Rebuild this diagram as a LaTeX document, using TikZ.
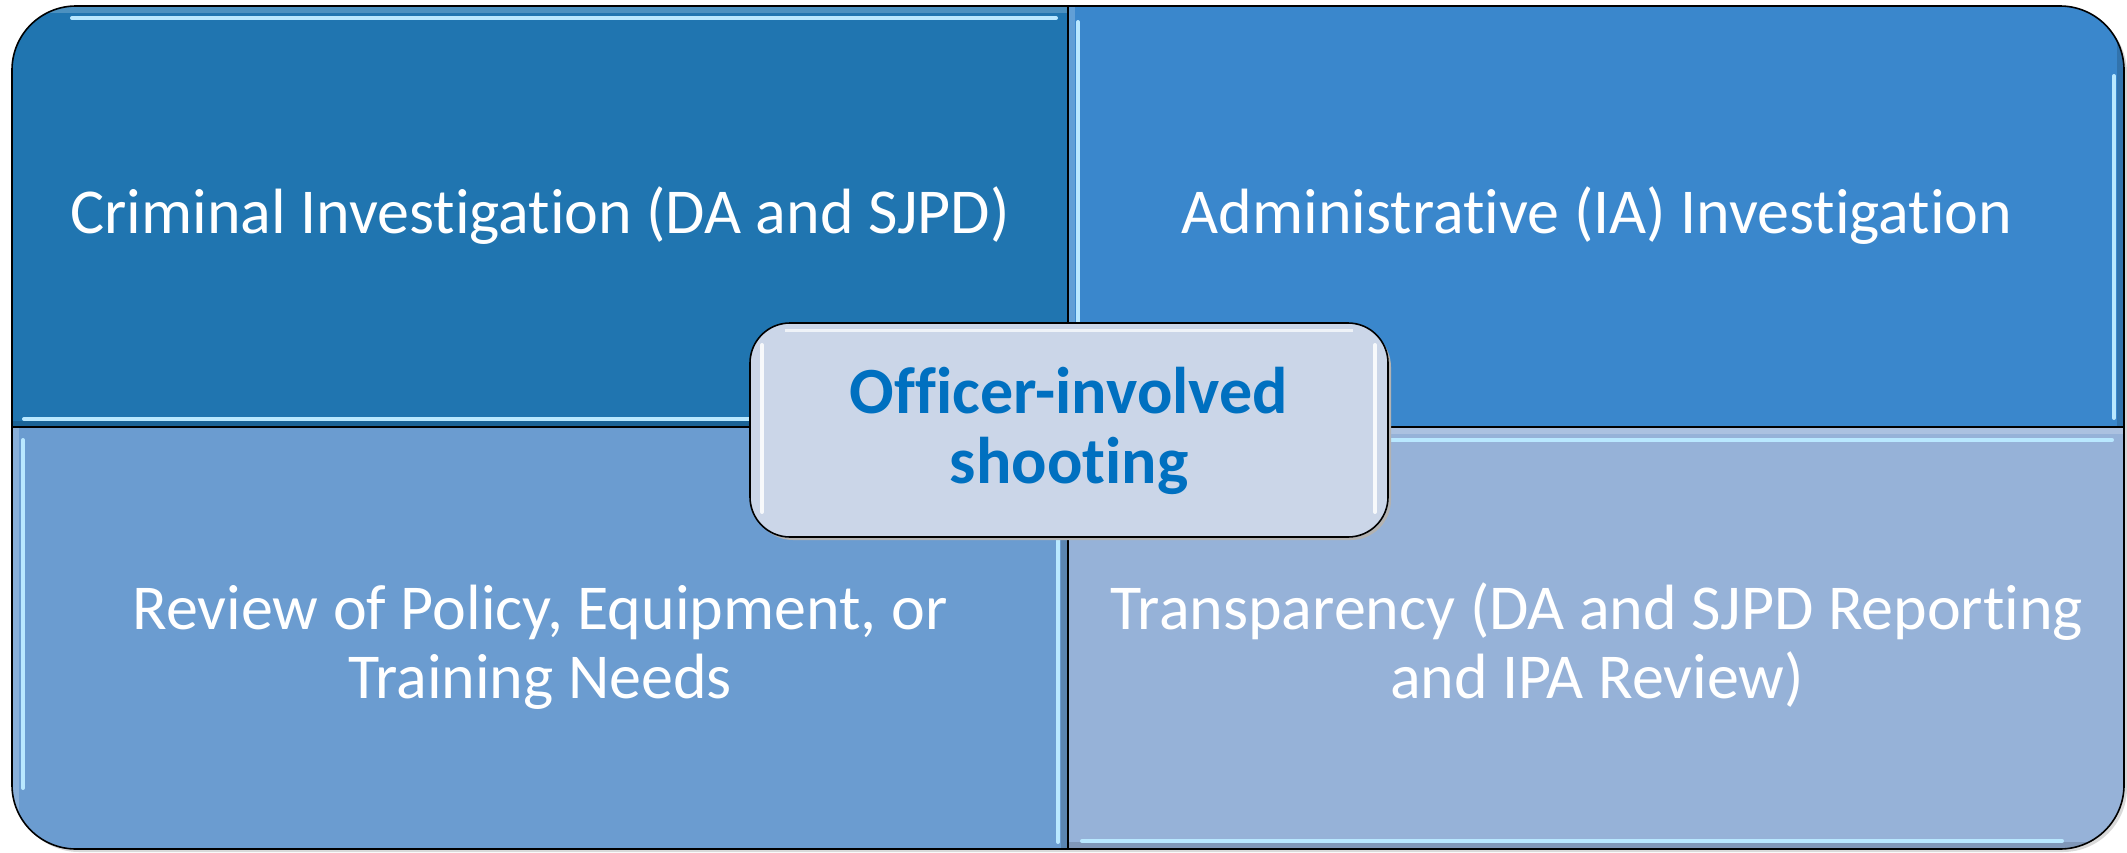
\documentclass[tikz,border=0pt]{standalone}
\usepackage{fontspec}
\setmainfont{Carlito}[Ligatures={NoCommon}]
\definecolor{tlc}{RGB}{32,117,176}
\definecolor{trc}{RGB}{58,135,204}
\definecolor{blc}{RGB}{107,156,208}
\definecolor{brc}{RGB}{150,178,216}
\definecolor{ctrc}{RGB}{203,214,232}
\definecolor{ctrtext}{RGB}{0,112,192}
\definecolor{hilite}{RGB}{185,232,255}
\begin{document}
\begin{tikzpicture}[x=0.5pt,y=-0.5pt,
  quadtext/.style={anchor=base,text=white,inner sep=0pt,font=\fontsize{32}{34.5}\selectfont},
  ctrtxt/.style={anchor=base,text=ctrtext,inner sep=0pt,font=\fontsize{33}{35}\selectfont\bfseries},
  hl/.style={draw=hilite,line width=2pt,line cap=round},
  edge/.style={draw=black,line width=0.8pt}]
\useasboundingbox (0,0) rectangle (2127,852);
% shadow
\fill[black!15,rounded corners=32pt] (15,9) rectangle (2127,852);
\begin{scope}
\clip[rounded corners=32pt] (12,6) rectangle (2124,849);
\fill[tlc] (12,6) rectangle (1068,427);
\fill[trc] (1068,6) rectangle (2124,427);
\fill[blc] (12,427) rectangle (1068,849);
\fill[brc] (1068,427) rectangle (2124,849);
% soft bevel bands
\draw[tlc!80!white,line width=3pt] (12,10) -- (1068,10);
\draw[tlc!85!black,line width=3pt] (12,424) -- (1068,424);
\draw[trc!80!white,line width=3pt] (1072,6) -- (1072,427);
\draw[trc!85!black,line width=3pt] (2120,6) -- (2120,427);
\draw[blc!80!white,line width=3pt] (16,427) -- (16,849);
\draw[blc!85!black,line width=3pt] (1064,427) -- (1064,849);
\draw[brc!80!white,line width=3pt] (1068,431) -- (2124,431);
\draw[brc!85!black,line width=3pt] (1068,845) -- (2124,845);
% highlights
\draw[hl] (72,18) -- (1056,18);
\draw[hl] (24,419) -- (1056,419);
\draw[hl] (1078,22) -- (1078,418);
\draw[hl] (2114,76) -- (2114,418);
\draw[hl] (23,440) -- (23,788);
\draw[hl] (1058,440) -- (1058,842);
\draw[hl] (1082,440) -- (2112,440);
\draw[hl] (1082,841) -- (2062,841);
\end{scope}
\draw[edge] (1068,6) -- (1068,849);
\draw[edge] (12,427) -- (2124,427);
\draw[edge,rounded corners=32pt] (12,6) rectangle (2124,849);
% quadrant texts
\node[quadtext] (tl) at (540,233) {Criminal Investigation (DA and SJPD)};
\node[quadtext] (tr) at (1597,233) {Administrative (IA) Investigation};
\node[quadtext] (bla) at (540,629) {Review of Policy, Equipment, or};
\node[quadtext] (blb) at (540,698) {Training Needs};
\node[quadtext] (bra) at (1597,629) {Transparency (DA and SJPD Reporting};
\node[quadtext] (brb) at (1597,698) {and IPA Review)};
% centre box
\fill[black!30,rounded corners=20pt] (753,327) rectangle (1391,540);
\draw[edge,fill=ctrc,rounded corners=20pt] (750,323) rectangle (1388,537);
\draw[white!85!ctrc,line width=2pt,line cap=round] (762,345) -- (762,512);
\draw[white!85!ctrc,line width=2pt,line cap=round] (1375,345) -- (1375,512);
\draw[white!70!ctrc,line width=1.5pt] (785,330) -- (1353,330);
\node[ctrtxt] (ctra) at (1069,413) {Officer-involved};
\node[ctrtxt] (ctrb) at (1069,483) {shooting};
\end{tikzpicture}
\end{document}
